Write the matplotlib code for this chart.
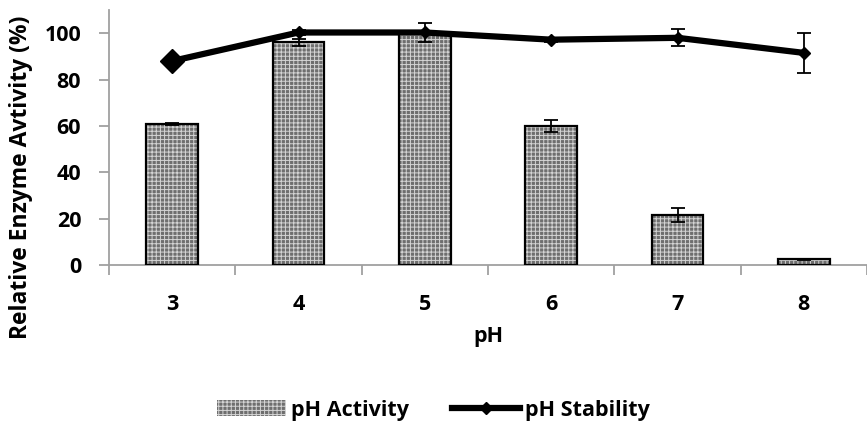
import matplotlib
matplotlib.use("Agg")
import matplotlib.pyplot as plt
from matplotlib.lines import Line2D
from matplotlib.patches import Patch
import numpy as np

# data
ph = ["3", "4", "5", "6", "7", "8"]
activity = [61, 96, 100, 60, 21.5, 2.5]
activity_err = [0.4, 1.5, 0, 2.5, 3, 0.3]
stability = [88, 100.3, 100.3, 97.2, 98, 91.5]
stability_err = [0, 1.2, 4, 0.8, 3.7, 8.6]

plt.rcParams["font.family"] = ["Open Sans", "DejaVu Sans"]
plt.rcParams["font.weight"] = "bold"
plt.rcParams["hatch.linewidth"] = 0.7

fig = plt.figure(figsize=(8.67, 4.23), dpi=100)
ax = fig.add_axes([109/867, 158/423, 758/867, 255/423])
x = np.arange(len(ph))

# checkered fill, then black outline on top
ax.bar(x, activity, width=0.41, color="#6e6e6e", hatch="++++", edgecolor="#d4d4d4", linewidth=0, zorder=2)
ax.bar(x, activity, width=0.41, fill=False, edgecolor="black", linewidth=1.6, zorder=3)
ax.errorbar(x, activity, yerr=activity_err, fmt="none", ecolor="black", elinewidth=1.3, capsize=5, capthick=1.3, zorder=4)

ax.errorbar(x, stability, yerr=stability_err, fmt="none", ecolor="black", elinewidth=1.3, capsize=5, capthick=1.3, zorder=5)
ax.plot(x, stability, color="black", linewidth=4.5, marker="D", markersize=6, zorder=6)
ax.plot(x[:1], stability[:1], color="black", linestyle="none", marker="D", markersize=12, zorder=7)

ax.set_xlim(-0.5, 5.42)
ax.set_ylim(0, 110)
ax.set_yticks([0, 20, 40, 60, 80, 100])
ax.set_xticks(x)
ax.set_xticklabels(ph)
ax.set_xticks(np.arange(-0.5, 6, 1), minor=True)
ax.tick_params(axis="x", which="major", length=0, pad=21, labelsize=15.5)
ax.tick_params(axis="x", which="minor", length=7, width=1.3, color="#a0a0a0", direction="out")
ax.tick_params(axis="y", length=7, width=1.3, color="#a0a0a0", pad=13, labelsize=15.5)
for s in ["top", "right"]:
    ax.spines[s].set_visible(False)
for s in ["left", "bottom"]:
    ax.spines[s].set_color("#a0a0a0")
    ax.spines[s].set_linewidth(1.3)

ax.set_ylabel("Relative Enzyme Avtivity (%)", fontsize=16.5, fontweight="bold")
ax.yaxis.set_label_coords(-0.1, 0.345)
ax.set_xlabel("pH", fontsize=15.5, fontweight="bold", labelpad=8)

handles = [Patch(facecolor="#6e6e6e", hatch="++++", edgecolor="#d4d4d4", linewidth=0),
           Line2D([], [], color="black", linewidth=4.5, marker="D", markersize=6)]
fig.legend(handles, ["pH Activity", "pH Stability"], loc="center", bbox_to_anchor=(0.5, 13/423),
           ncol=2, frameon=False, fontsize=15.5, handlelength=3.2, handletextpad=0.2, columnspacing=2.0)

fig.savefig("out.png", dpi=100)
